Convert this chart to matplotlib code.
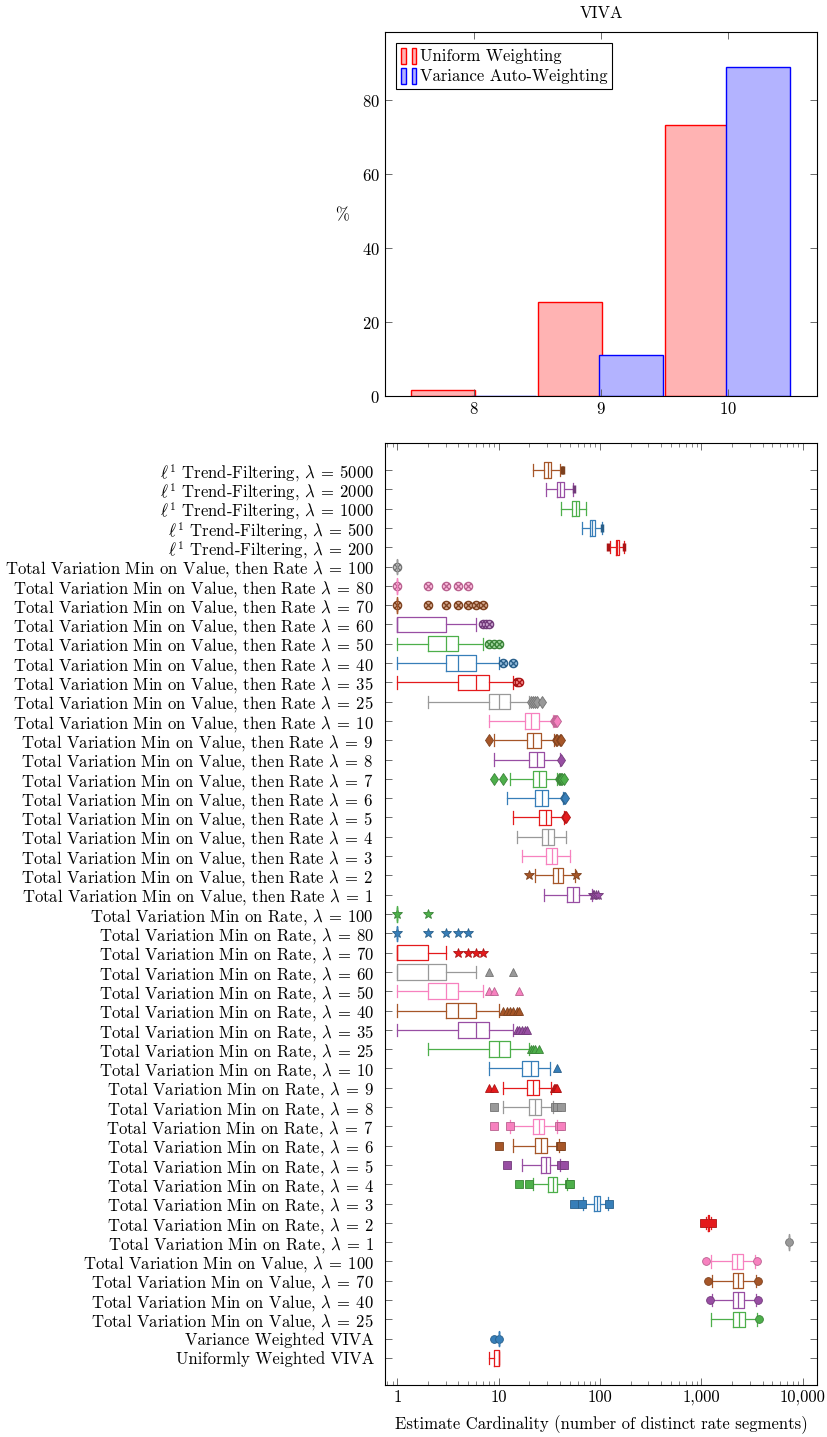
import matplotlib
matplotlib.use("Agg")
import matplotlib.pyplot as plt
from matplotlib.patches import Patch
from matplotlib.legend_handler import HandlerTuple
from matplotlib.path import Path
from matplotlib.ticker import FuncFormatter, LogLocator, NullFormatter
import matplotlib.colors as mcolors

plt.rcParams["font.family"] = "cmr10"
plt.rcParams["mathtext.fontset"] = "cm"
plt.rcParams["axes.unicode_minus"] = False
plt.rcParams["axes.formatter.use_mathtext"] = True

FS = 12

# --- histogram of VIVA estimates ---
hist_bins = [8, 9, 10]
uniform_pct = [1.5, 25.3, 73.2]
variance_pct = [0.0, 11.1, 88.9]

# --- box plot rows, listed bottom to top ---
row_labels = [
    "Uniformly Weighted VIVA",
    "Variance Weighted VIVA",
    "Total Variation Min on Value, $\\lambda\\:=\\:25$",
    "Total Variation Min on Value, $\\lambda\\:=\\:40$",
    "Total Variation Min on Value, $\\lambda\\:=\\:70$",
    "Total Variation Min on Value, $\\lambda\\:=\\:100$",
] + [f"Total Variation Min on Rate, $\\lambda\\:=\\:{l}$"
     for l in [1, 2, 3, 4, 5, 6, 7, 8, 9, 10, 25, 35, 40, 50, 60, 70, 80, 100]] \
  + [f"Total Variation Min on Value, then Rate $\\lambda\\:=\\:{l}$"
     for l in [1, 2, 3, 4, 5, 6, 7, 8, 9, 10, 25, 35, 40, 50, 60, 70, 80, 100]] \
  + [f"$\\ell^1$ Trend-Filtering, $\\lambda\\:=\\:{l}$" for l in [200, 500, 1000, 2000, 5000]]

whislo = [8, 10, 1236, 1260, 1274, 1245,
          7300, 1100, 68.5, 22, 17, 14, 13, 11, 11, 8, 2, 1, 1, 1, 1, 1, 1, 1,
          28, 23, 17, 15, 14, 12, 13, 9, 9, 8, 2, 1, 1, 1, 1, 1, 1, 1,
          124, 66, 41, 29, 22]
q1 = [9, 10, 2069, 2038, 2038, 1991,
      7300, 1150, 86.6, 31, 26, 23, 22, 20, 19, 17, 8, 4, 3, 2, 1, 1, 1, 1,
      47, 34, 29, 27, 25, 23, 22, 20, 19, 18, 8, 4, 3, 2, 1, 1, 1, 1,
      142, 80, 53, 38, 28]
med = [10, 10, 2334, 2299, 2284, 2232,
       7300, 1170, 92.7, 34, 29, 26.4, 25, 23, 22, 21, 10, 6, 4, 3, 2, 1, 1, 1,
       54, 38.5, 33.3, 31, 29, 27, 25, 24, 22, 21, 10, 6, 4, 3, 1, 1, 1, 1,
       147, 84, 57.5, 40.6, 31]
q3 = [10, 10, 2680, 2655, 2596, 2540,
      7300, 1190, 100, 38, 32, 30, 28, 26.4, 25, 24.3, 13, 8, 6, 4, 3, 2, 1, 1,
      62.5, 43.5, 38, 35, 33, 31, 29, 28, 26.4, 25, 13, 8, 6, 4, 3, 1, 1, 1,
      153, 89, 61.5, 44, 33]
whishi = [10, 10, 3516, 3460, 3412, 3388,
          7300, 1240, 121, 47, 40, 39, 37.4, 34.6, 33, 32, 20, 14, 10, 7, 6, 3, 1, 1,
          83, 56, 50, 46, 44, 43, 38, 40, 35.4, 34.6, 20, 14, 10, 7, 6, 1, 1, 1,
          171, 104, 73, 54, 40]
fliers = [
    [], [9, 10], [3650], [1200, 3600], [1156, 3596], [1112, 3541],
    [7300], [1050, 1270], [55, 67, 123], [16, 20, 49, 51], [12, 41, 44],
    [10, 40, 41], [9, 13, 39, 41], [9, 36, 38, 41], [8, 9, 35, 36, 37, 38],
    [38], [21, 22, 23, 25], [15, 16, 17, 18, 19], [11, 12, 13, 14, 15, 16],
    [8, 9, 16], [8, 14], [4, 5, 6, 7], [1, 2, 3, 4, 5], [1, 2],
    [85, 88, 92, 95], [20, 58], [], [], [45, 46], [44, 45],
    [9, 11, 39, 40, 41, 42, 44], [41], [8, 37, 38, 40, 41], [35, 36, 37, 38],
    [21, 22, 23, 24, 27], [15, 16], [11, 14], [8, 9, 10], [7, 7.5, 8],
    [1, 2, 3, 4, 5, 6, 7], [1, 2, 3, 4, 5], [1],
    [120, 173], [105], [], [55], [42, 43],
]

palette = ["#E41A1C", "#377EB8", "#4DAF4A", "#984EA3", "#A65628", "#F781BF", "#999999"]

# circle with a cross inside
otimes = Path.make_compound_path(
    Path.unit_circle(),
    Path([(-0.72, -0.72), (0.72, 0.72)], [Path.MOVETO, Path.LINETO]),
    Path([(-0.72, 0.72), (0.72, -0.72)], [Path.MOVETO, Path.LINETO]),
)
mark_list = ["o", "s", "^", "*", "d", otimes, "|"]
mark_size = {"o": 5.6, "s": 5.2, "^": 5.6, "*": 7.0, "d": 6.2, "|": 6.0}


def darker(c, f=0.75):
    r, g, b = mcolors.to_rgb(c)
    return (r * f, g * f, b * f)


def lighter(c, f=0.45):
    r, g, b = mcolors.to_rgb(c)
    return (r + (1 - r) * f, g + (1 - g) * f, b + (1 - b) * f)


fig = plt.figure(figsize=(8.27, 14.37), dpi=100)

# ---------------- top: histogram ----------------
ax1 = fig.add_axes([0.4655, 0.7244, 0.5225, 0.2533])
bw = 0.5
b1 = [b - 0.245 for b in hist_bins]
b2 = [b + 0.235 for b in hist_bins]
ax1.bar(b1, uniform_pct, width=bw, color="#FFB3B3", edgecolor="#FF0000", linewidth=1.0)
ax1.bar(b2, variance_pct, width=bw, color="#B3B3FF", edgecolor="#0000FF", linewidth=1.0)
ax1.set_xlim(7.3, 10.7)
ax1.set_ylim(0, 98.4)
ax1.set_xticks(hist_bins)
ax1.set_yticks([0, 20, 40, 60, 80])
ax1.tick_params(direction="in", top=True, right=True, length=5, width=0.6,
                labelsize=FS, color="#555555")
ax1.set_title("VIVA", fontsize=FS, pad=10)
ax1.set_ylabel("%", fontsize=FS, rotation=0, va="center")
ax1.yaxis.set_label_coords(-0.0995, 0.497)
for s in ax1.spines.values():
    s.set_linewidth(0.8)
    s.set_zorder(3)

h_u = (Patch(facecolor="#FFB3B3", edgecolor="#FF0000", lw=1.0),
       Patch(facecolor="#FFB3B3", edgecolor="#FF0000", lw=1.0))
h_v = (Patch(facecolor="#B3B3FF", edgecolor="#0000FF", lw=1.0),
       Patch(facecolor="#B3B3FF", edgecolor="#0000FF", lw=1.0))
leg = ax1.legend([h_u, h_v], ["Uniform Weighting", "Variance Auto-Weighting"],
                 handler_map={tuple: HandlerTuple(ndivide=None, pad=0.4)},
                 loc="upper left", bbox_to_anchor=(0.015, 0.985), fontsize=FS,
                 frameon=True, fancybox=False, edgecolor="black", framealpha=1,
                 handlelength=0.9, handleheight=1.1, handletextpad=0.2,
                 borderpad=0.3, labelspacing=0.2, borderaxespad=0.3)
leg.get_frame().set_linewidth(0.8)

# ---------------- bottom: box plots ----------------
ax2 = fig.add_axes([0.4655, 0.0362, 0.5225, 0.6555])
positions = list(range(1, len(row_labels) + 1))
for i, pos in enumerate(positions):
    c = palette[i % 7]
    m = mark_list[i // 7]
    if m is otimes:
        fprops = dict(marker=m, markersize=6.0, markerfacecolor=lighter(c),
                      markeredgecolor=darker(c), markeredgewidth=0.9, linestyle="none")
    else:
        fprops = dict(marker=m, markersize=mark_size[m], markerfacecolor=c,
                      markeredgecolor=darker(c),
                      markeredgewidth=2.5 if m == "|" else 0.6, linestyle="none")
    stats = [dict(whislo=whislo[i], q1=q1[i], med=med[i], q3=q3[i],
                  whishi=whishi[i], fliers=fliers[i], label=row_labels[i])]
    line_kw = dict(color=c, linewidth=0.9)
    ax2.bxp(stats, positions=[pos], widths=0.8, capwidths=0.64,
            orientation="horizontal", manage_ticks=False, showfliers=True,
            boxprops=line_kw, medianprops=line_kw, whiskerprops=line_kw,
            capprops=line_kw, flierprops=fprops)

ax2.set_xscale("log")
ax2.set_xlim(0.757, 13800)
ax2.set_ylim(-0.4, len(row_labels) + 1.4)
ax2.set_yticks(positions)
ax2.set_yticklabels(row_labels)
ax2.xaxis.set_major_locator(LogLocator(base=10, numticks=10))
ax2.xaxis.set_minor_locator(LogLocator(base=10, subs=range(2, 10), numticks=20))
ax2.xaxis.set_major_formatter(FuncFormatter(lambda v, p: f"{v:,.0f}"))
ax2.xaxis.set_minor_formatter(NullFormatter())
ax2.tick_params(axis="both", which="major", direction="in", top=True, right=True,
                length=5, width=0.6, labelsize=FS, color="#555555")
ax2.tick_params(axis="x", which="minor", direction="in", top=True, length=3,
                width=0.5, color="#555555")
ax2.tick_params(axis="y", which="major", pad=8)
ax2.set_xlabel("Estimate Cardinality (number of distinct rate segments)", fontsize=FS,
               labelpad=7)
for s in ax2.spines.values():
    s.set_linewidth(0.8)

fig.savefig("out.png", dpi=100)
